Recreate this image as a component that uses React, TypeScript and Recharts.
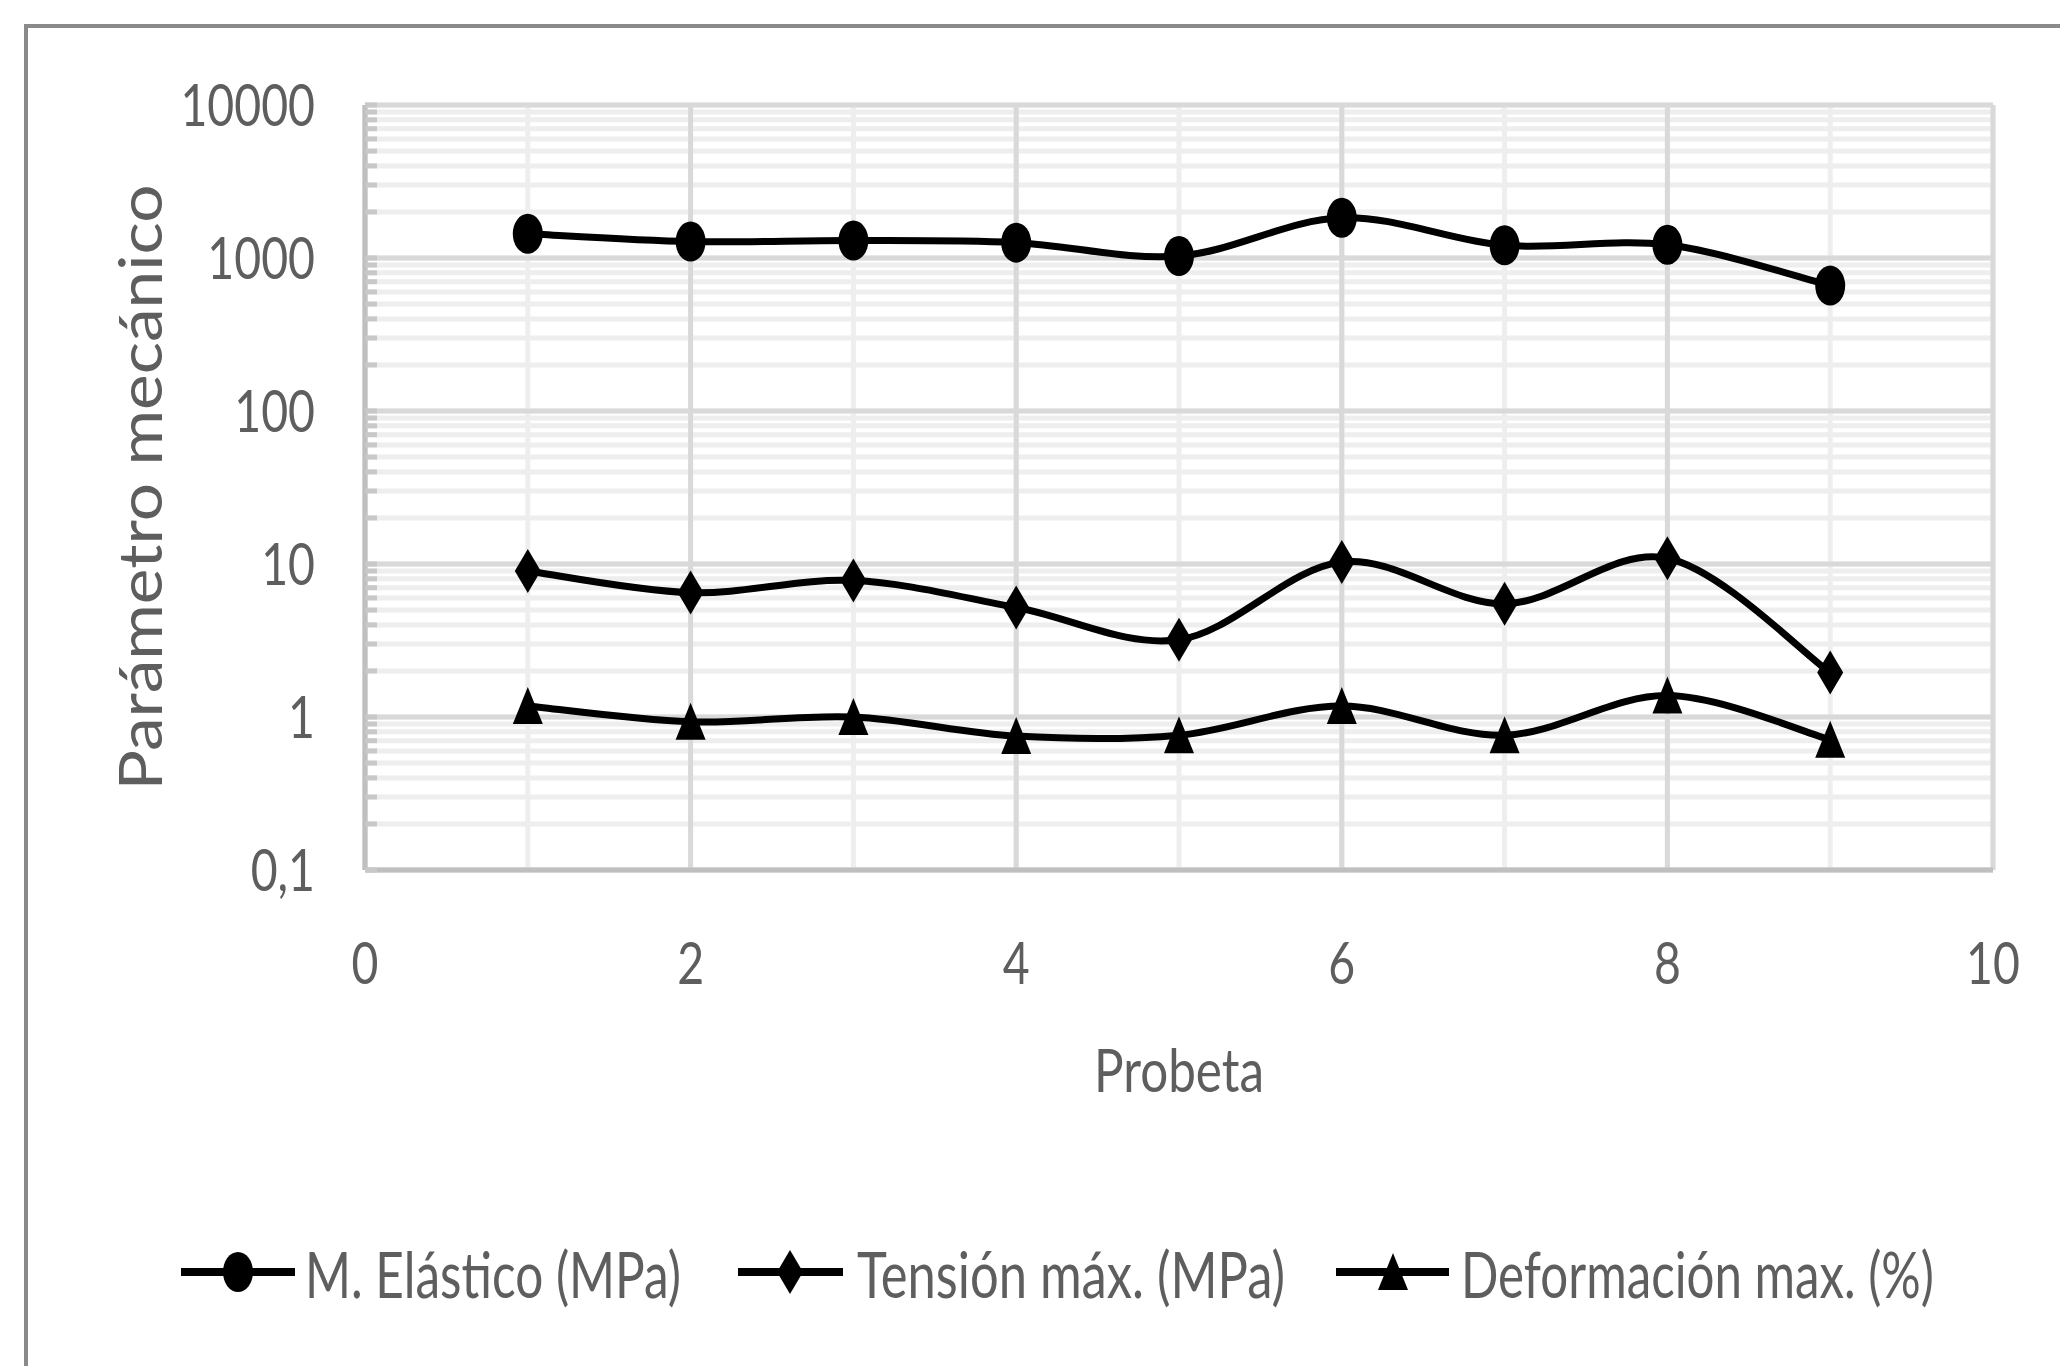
import React from 'react';
import { LineChart, Line, XAxis, YAxis, CartesianGrid, ReferenceLine, Legend } from 'recharts';

// ---------- data ----------
const probeta = [1, 2, 3, 4, 5, 6, 7, 8, 9];
const moduloElastico = [1440, 1280, 1300, 1260, 1030, 1830, 1210, 1220, 660];
const tensionMax = [9.0, 6.5, 7.8, 5.2, 3.2, 10.3, 5.5, 10.9, 1.95];
const deformacionMax = [1.18, 0.93, 1.0, 0.75, 0.76, 1.18, 0.76, 1.38, 0.71];
const seriesNames = ['M. Elástico (MPa)', 'Tensión máx. (MPa)', 'Deformación max. (%)'];

const xTicks = [0, 1, 2, 3, 4, 5, 6, 7, 8, 9, 10];
const xMajorTicks = [0, 2, 4, 6, 8, 10];
const yMajorTicks = [0.1, 1, 10, 100, 1000, 10000];
const yMajorLabels = ['0,1', '1', '10', '100', '1000', '10000'];
const yMinorTicks = [
  0.2, 0.3, 0.4, 0.5, 0.6, 0.7, 0.8, 0.9,
  2, 3, 4, 5, 6, 7, 8, 9,
  20, 30, 40, 50, 60, 70, 80, 90,
  200, 300, 400, 500, 600, 700, 800, 900,
  2000, 3000, 4000, 5000, 6000, 7000, 8000, 9000,
];
const yAllTicks = [...yMajorTicks, ...yMinorTicks].sort((a, b) => a - b);

const data = probeta.map((p, i) => ({
  probeta: p,
  modulo: moduloElastico[i],
  tension: tensionMax[i],
  deformacion: deformacionMax[i],
}));

// ---------- styles ----------
const FONT = "Lato, 'Open Sans', 'DejaVu Sans', sans-serif";
const GREY = '#5e5e5e';
const MINOR_GRID = '#eeeeee';
const MAJOR_GRID = '#d9d9d9';
const AXIS = '#bfbfbf';

// Excel-like smoothing (uniform Catmull-Rom as cubic Bezier)
function excelSmooth(context: any) {
  let pts: number[][] = [];
  return {
    areaStart() {},
    areaEnd() {},
    lineStart() { pts = []; },
    lineEnd() {
      const n = pts.length;
      if (!n) return;
      context.moveTo(pts[0][0], pts[0][1]);
      for (let i = 0; i < n - 1; i++) {
        const p0 = pts[i - 1] || pts[i];
        const p1 = pts[i];
        const p2 = pts[i + 1];
        const p3 = pts[i + 2] || pts[i + 1];
        context.bezierCurveTo(
          p1[0] + (p2[0] - p0[0]) / 6, p1[1] + (p2[1] - p0[1]) / 6,
          p2[0] - (p3[0] - p1[0]) / 6, p2[1] - (p3[1] - p1[1]) / 6,
          p2[0], p2[1]
        );
      }
    },
    point(x: number, y: number) { pts.push([+x, +y]); },
  };
}

function Marker({ shape, cx, cy }: { shape: string; cx: number; cy: number }) {
  if (cx == null || cy == null || isNaN(cx) || isNaN(cy)) return null;
  if (shape === 'circle') return <ellipse cx={cx} cy={cy} rx={15} ry={20} fill="#000" />;
  if (shape === 'diamond')
    return <polygon points={`${cx},${cy - 22} ${cx + 13},${cy} ${cx},${cy + 22} ${cx - 13},${cy}`} fill="#000" />;
  return <polygon points={`${cx},${cy - 19} ${cx + 15},${cy + 18} ${cx - 15},${cy + 18}`} fill="#000" />;
}

const shapes = ['circle', 'diamond', 'triangle'];

// size: visual (vertical) size; fs: actual font size used for horizontal metrics
function SText(props: any) {
  const { x, y, size, fs, anchor = 'start', rotate = 0, length, children } = props;
  const f = fs || size;
  const sy = size / f;
  return (
    <text
      transform={`translate(${x},${y}) rotate(${rotate}) scale(1,${sy})`}
      x={0}
      y={0}
      fontSize={f}
      fontFamily={FONT}
      fontWeight={400}
      fill={GREY}
      textAnchor={anchor}
      textLength={length}
      lengthAdjust={length ? 'spacingAndGlyphs' : undefined}
    >
      {children}
    </text>
  );
}

function YTick(props: any) {
  const { x, y, payload } = props;
  const v = payload.value;
  const idx = yMajorTicks.findIndex((m) => Math.abs(m - v) < 1e-9);
  return (
    <g>
      <line x1={x} x2={x + 12} y1={y} y2={y} stroke="#c8c8c8" strokeWidth={5} />
      {idx >= 0 && (
        <SText x={x - 50} y={y + 21} size={58} fs={46.4} anchor="end">
          {yMajorLabels[idx]}
        </SText>
      )}
    </g>
  );
}

function XTick(props: any) {
  const { x, y, payload } = props;
  if (!xMajorTicks.includes(payload.value)) return <g />;
  return (
    <SText x={x} y={y + 114} size={58} fs={46.4} anchor="middle">
      {String(payload.value)}
    </SText>
  );
}

function YTitle(props: any) {
  const vb = props.viewBox || { x: 265, y: 105, width: 100, height: 765 };
  return (
    <SText x={vb.x - 103} y={vb.y + vb.height / 2} size={60} rotate={-90} anchor="middle" length={606}>
      Parámetro mecánico
    </SText>
  );
}

function XTitle(props: any) {
  const vb = props.viewBox || { x: 365, y: 870, width: 1628, height: 250 };
  return (
    <SText x={vb.x + vb.width / 2} y={vb.y + 222} size={60} fs={48} anchor="middle" length={170}>
      Probeta
    </SText>
  );
}

const legendLayout = [
  { l0: 181, l1: 295, m: 238, t: 305, len: 376 },
  { l0: 738, l1: 843, m: 790, t: 857, len: 428 },
  { l0: 1336, l1: 1449, m: 1393, t: 1461, len: 473 },
];

function LegendContent(props: any) {
  const payload = props.payload || [];
  return (
    <svg width={2060} height={120} style={{ display: 'block', overflow: 'visible' }}>
      {payload.map((entry: any, k: number) => {
        const i = seriesNames.indexOf(entry.value);
        const L = legendLayout[i];
        if (!L) return null;
        return (
          <g key={k}>
            <line x1={L.l0} x2={L.l1} y1={50} y2={50} stroke="#000" strokeWidth={8} />
            <Marker shape={shapes[i]} cx={L.m} cy={50} />
            <SText x={L.t} y={76} size={64} fs={49} anchor="start" length={L.len}>
              {entry.value}
            </SText>
          </g>
        );
      })}
    </svg>
  );
}

export default function App() {
  return (
    <div style={{ position: 'absolute', left: 0, top: 0, width: 2060, height: 1366, overflow: 'hidden', background: '#fff' }}>
      <div
        style={{
          position: 'absolute',
          left: 24,
          top: 24,
          width: 2100,
          height: 1400,
          border: '4px solid #8a8a8a',
          boxSizing: 'border-box',
        }}
      />
      <div style={{ position: 'absolute', left: 0, top: 0 }}>
        <LineChart
          width={2060}
          height={1366}
          data={data}
          margin={{ top: 105, right: 67, bottom: 246, left: 265 }}
        >
          <CartesianGrid stroke={MINOR_GRID} strokeWidth={5} />
          {yMajorTicks.map((v) => (
            <ReferenceLine key={'y' + v} y={v} stroke={MAJOR_GRID} strokeWidth={5} />
          ))}
          {xMajorTicks.map((v) => (
            <ReferenceLine key={'x' + v} x={v} stroke={MAJOR_GRID} strokeWidth={5} />
          ))}
          <XAxis
            dataKey="probeta"
            type="number"
            domain={[0, 10]}
            ticks={xTicks}
            interval={0}
            height={250}
            tickSize={0}
            tickMargin={0}
            tickLine={false}
            axisLine={{ stroke: AXIS, strokeWidth: 5 }}
            tick={<XTick />}
            label={<XTitle />}
            allowDataOverflow
          />
          <YAxis
            scale="log"
            type="number"
            domain={[0.1, 10000]}
            ticks={yAllTicks}
            interval={0}
            width={100}
            tickSize={0}
            tickMargin={0}
            tickLine={false}
            axisLine={{ stroke: AXIS, strokeWidth: 5 }}
            tick={<YTick />}
            label={<YTitle />}
            allowDataOverflow
          />
          <Legend
            layout="horizontal"
            verticalAlign="middle"
            align="center"
            itemSorter={null as any}
            wrapperStyle={{ left: 0, top: 1222, width: 2060, height: 120 }}
            content={<LegendContent />}
          />
          <Line
            dataKey="modulo"
            name={seriesNames[0]}
            type={excelSmooth as any}
            stroke="#000"
            strokeWidth={7}
            dot={(p: any) => <Marker key={'a' + p.index} shape="circle" cx={p.cx} cy={p.cy} />}
            activeDot={false}
            isAnimationActive={false}
          />
          <Line
            dataKey="tension"
            name={seriesNames[1]}
            type={excelSmooth as any}
            stroke="#000"
            strokeWidth={7}
            dot={(p: any) => <Marker key={'b' + p.index} shape="diamond" cx={p.cx} cy={p.cy} />}
            activeDot={false}
            isAnimationActive={false}
          />
          <Line
            dataKey="deformacion"
            name={seriesNames[2]}
            type={excelSmooth as any}
            stroke="#000"
            strokeWidth={7}
            dot={(p: any) => <Marker key={'c' + p.index} shape="triangle" cx={p.cx} cy={p.cy} />}
            activeDot={false}
            isAnimationActive={false}
          />
        </LineChart>
      </div>
    </div>
  );
}
